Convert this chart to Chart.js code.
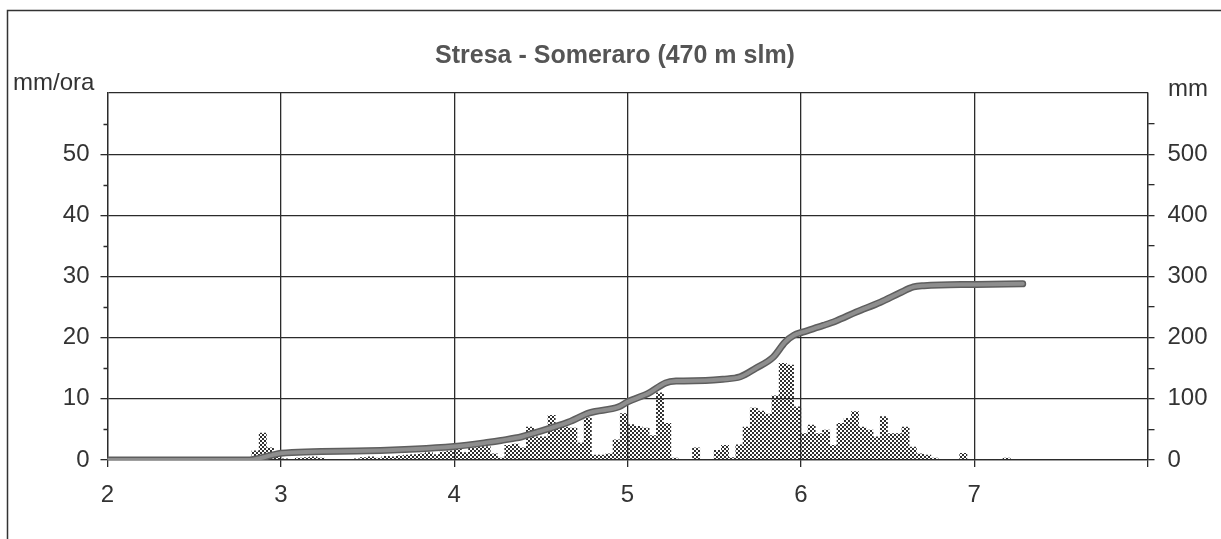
<!DOCTYPE html>
<html>
<head>
<meta charset="utf-8">
<style>
  html, body { margin: 0; padding: 0; background: #ffffff; }
  #wrap { position: relative; width: 1221px; height: 539px; }
</style>
<script src="https://cdn.jsdelivr.net/npm/chart.js@4.4.1/dist/chart.umd.min.js"></script>
</head>
<body>
<div id="wrap"><canvas id="c" width="1221" height="539"></canvas></div>
<script>
// ---- text ----
const TITLE = 'Stresa - Someraro (470 m slm)';
const LEFT_UNIT = 'mm/ora';
const RIGHT_UNIT = 'mm';

// ---- tick labels ----
const DAY_TICKS = [2, 3, 4, 5, 6, 7];
const RATE_TICKS = [0, 10, 20, 30, 40, 50];
const CUM_TICKS = [0, 100, 200, 300, 400, 500];

// ---- hourly rainfall intensity (mm/ora), one value per hour ----
// first value is the hour that starts RAIN_FIRST_HOUR hours after day RAIN_FIRST_DAY
const RAIN_FIRST_DAY = 2;
const RAIN_FIRST_HOUR = 20;
const rainRate = [
  1.5, 4.4, 2.0, 0.8,                                   // day 2, 20h-23h
  0.2, 0.0, 0.3, 0.4, 0.5, 0.3, 0.0, 0.0, 0.0, 0.0, 0.2, 0.4,   // day 3
  0.5, 0.3, 0.6, 0.5, 0.7, 0.8, 0.9, 1.0, 1.2, 0.9, 1.3, 1.5,
  2.2, 1.2, 2.0, 2.5, 2.2, 1.0, 0.3, 2.4, 2.6, 2.0, 5.4, 3.8,   // day 4
  3.8, 7.3, 5.4, 5.4, 5.2, 2.8, 6.9, 0.8, 0.8, 1.0, 3.3, 7.6,
  5.8, 5.5, 5.2, 4.0, 11.0, 6.0, 0.3, 0.0, 0.0, 2.0, 0.0, 0.0,  // day 5
  1.6, 2.4, 0.4, 2.5, 5.4, 8.5, 8.0, 7.5, 10.5, 15.8, 15.5, 8.7,
  4.3, 5.7, 4.3, 4.9, 2.4, 6.0, 6.8, 7.9, 5.4, 4.9, 3.8, 7.1,   // day 6
  4.3, 4.3, 5.4, 2.1, 1.0, 0.8, 0.3, 0.0, 0.0, 0.0, 1.1, 0.0,
  0.0, 0.0, 0.0, 0.0, 0.3                               // day 7
];

// ---- cumulative rainfall (mm) ----
const cumDays = [2.0, 2.82, 2.88, 2.95, 3.0, 3.5, 4.0, 4.2, 4.27, 4.39, 4.46, 4.66, 4.78,
                 4.95, 5.0, 5.12, 5.22, 5.28, 5.45, 5.55, 5.65, 5.74, 5.84, 5.91, 5.96,
                 6.01, 6.13, 6.2, 6.32, 6.46, 6.57, 6.65, 6.71, 7.01, 7.28];
const cumMm   = [0, 0, 3, 8, 11, 15, 22, 29, 32, 38, 44, 62, 77,
                 87, 95, 109, 126, 129, 130, 132, 136, 150, 168, 193, 204,
                 209, 220, 227, 242, 258, 273, 283, 285, 287, 288];

// ---- build chart ----
const rainPoints = rainRate.map((v, i) => ({ x: RAIN_FIRST_DAY + (RAIN_FIRST_HOUR + i + 0.5) / 24, y: v }));
const cumPoints = cumDays.map((d, i) => ({ x: d, y: cumMm[i] }));

const canvas = document.getElementById('c');
const ctx = canvas.getContext('2d');

// stippled fill for the hourly bars
const tile = document.createElement('canvas');
tile.width = 4; tile.height = 4;
const tctx = tile.getContext('2d');
tctx.fillStyle = '#303030';
tctx.fillRect(0, 0, 2, 2);
tctx.fillRect(2, 2, 2, 2);
const stipple = ctx.createPattern(tile, 'repeat');

const INK = '#2b2b2b';
const FONT = "'Liberation Sans', Arial, Helvetica, sans-serif";
Chart.defaults.font.family = FONT;

const framePlugin = {
  id: 'frame',
  beforeDraw(chart) {
    const c = chart.ctx;
    c.save();
    c.fillStyle = '#ffffff';
    c.fillRect(0, 0, chart.width, chart.height);
    c.strokeStyle = '#333333';
    c.lineWidth = 1.5;
    c.beginPath();
    c.moveTo(7.5, 539);
    c.lineTo(7.5, 10.5);
    c.lineTo(1221, 10.5);
    c.stroke();
    c.restore();
  },
  afterDraw(chart) {
    const c = chart.ctx;
    const y = chart.scales.y;
    const left = chart.chartArea.left;
    c.save();
    // short minor ticks on the left axis
    c.strokeStyle = INK;
    c.lineWidth = 1.3;
    c.beginPath();
    for (let v = 5; v < 60; v += 10) {
      const py = Math.round(y.getPixelForValue(v)) + 0.5;
      c.moveTo(left - 4, py);
      c.lineTo(left, py);
    }
    c.stroke();
    // title and units
    c.textBaseline = 'alphabetic';
    c.fillStyle = '#555555';
    c.font = 'bold 25px ' + FONT;
    c.textAlign = 'center';
    c.fillText(TITLE, 615, 63);
    c.fillStyle = '#333333';
    c.font = '24px ' + FONT;
    c.textAlign = 'left';
    c.fillText(LEFT_UNIT, 13, 89.5);
    c.fillText(RIGHT_UNIT, 1168, 96);
    c.restore();
  }
};

new Chart(ctx, {
  type: 'bar',
  data: {
    datasets: [
      {
        type: 'line', data: cumPoints, yAxisID: 'y1', order: 1,
        borderColor: '#8e8e8e', borderWidth: 4, pointRadius: 0,
        cubicInterpolationMode: 'monotone', borderCapStyle: 'round', borderJoinStyle: 'round'
      },
      {
        type: 'line', data: cumPoints, yAxisID: 'y1', order: 2,
        borderColor: '#5e5e5e', borderWidth: 7, pointRadius: 0,
        cubicInterpolationMode: 'monotone', borderCapStyle: 'round', borderJoinStyle: 'round'
      },
      {
        type: 'bar', data: rainPoints, yAxisID: 'y', order: 3,
        backgroundColor: stipple, borderWidth: 0,
        barPercentage: 1, categoryPercentage: 1, grouped: false
      }
    ]
  },
  options: {
    responsive: false,
    animation: false,
    events: [],
    layout: { padding: { top: 93, left: 0, right: 0, bottom: 0 } },
    plugins: { legend: { display: false }, tooltip: { enabled: false }, title: { display: false } },
    scales: {
      x: {
        type: 'linear', min: 2, max: 8, offset: false,
        ticks: {
          stepSize: 1, autoSkip: false, maxRotation: 0, padding: 14,
          color: '#333333', font: { size: 24 },
          callback: v => DAY_TICKS.includes(v) ? String(v) : ''
        },
        grid: { color: INK, lineWidth: 1.3, tickLength: 7, offset: false },
        border: { color: INK, width: 1.3 },
        afterFit: s => { s.height = 79; }
      },
      y: {
        position: 'left', min: 0, max: 60,
        ticks: {
          stepSize: 5, autoSkip: false, padding: 11,
          color: '#333333', font: { size: 24 },
          callback: v => RATE_TICKS.includes(v) ? String(v) : ''
        },
        grid: {
          lineWidth: 1.3, tickLength: 7,
          color: c => (c.tick && c.tick.value % 10 === 0) ? INK : 'rgba(0,0,0,0)',
          tickColor: c => (c.tick && RATE_TICKS.includes(c.tick.value)) ? INK : 'rgba(0,0,0,0)'
        },
        border: { color: INK, width: 1.3 },
        afterFit: s => { s.width = 107.5; }
      },
      y1: {
        position: 'right', min: 0, max: 600,
        ticks: {
          stepSize: 50, autoSkip: false, padding: 13,
          color: '#333333', font: { size: 24 },
          callback: v => CUM_TICKS.includes(v) ? String(v) : ''
        },
        grid: {
          drawOnChartArea: false, lineWidth: 1.3, tickLength: 7,
          tickColor: c => (c.tick && c.tick.value < 600) ? INK : 'rgba(0,0,0,0)'
        },
        border: { color: INK, width: 1.3 },
        afterFit: s => { s.width = 73.5; }
      }
    }
  },
  plugins: [framePlugin]
});
</script>
</body>
</html>
